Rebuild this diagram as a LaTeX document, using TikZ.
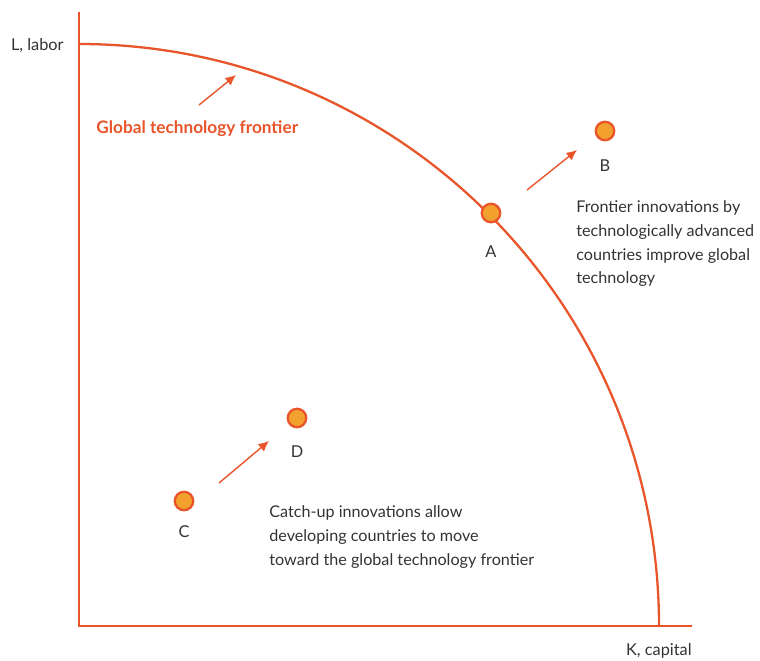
\documentclass[tikz,border=0pt]{standalone}
\usepackage{fontspec}
\setmainfont{Lato}
\usetikzlibrary{arrows.meta,positioning}
\definecolor{frontred}{HTML}{E8552B}
\definecolor{dotfill}{HTML}{F2A02E}
\definecolor{txtgray}{HTML}{333333}
\tikzset{
  point/.style={circle,draw=frontred,fill=dotfill,line width=1.3pt,minimum size=0.37cm,inner sep=0pt},
  ptlabel/.style={text=txtgray,font=\fontsize{9.3}{12}\selectfont},
  note/.style={text=txtgray,align=left,font=\fontsize{9.2}{13.6}\selectfont,inner sep=0pt},
}
\begin{document}
\begin{tikzpicture}[x=0.02cm,y=-0.02cm,>={Latex[length=6pt,width=5.5pt]}]
\useasboundingbox (0,0) rectangle (760,660);
% axes
\draw[frontred,line width=1.6pt] (79,12) -- (79,626) -- (692,626);
\node[ptlabel,anchor=base east,inner sep=0pt] (ylab) at (64,50) {L, labor};
\node[ptlabel,anchor=base east,inner sep=0pt] (xlab) at (692,655) {K, capital};
% frontier
\draw[frontred,line width=1.3pt] (79,44) arc[start angle=-90,end angle=0,x radius=580,y radius=582];
\node[anchor=base west,inner sep=0pt,text=frontred,font=\fontsize{9.8}{12}\selectfont\bfseries] (glob) at (96,133) {Global technology frontier};
\coordinate (g0) at (199,105);
\coordinate (g1) at (236,75);
\draw[->,frontred,line width=0.8pt] (g0) -- (g1);
% countries
\node[point] (A) at (491,213) {};
\node[point] (B) at (605,131) {};
\node[point] (C) at (184,501) {};
\node[point] (D) at (297,418) {};
\node[ptlabel,below=0.32cm of A] (Alab) {A};
\node[ptlabel,below=0.24cm of B] (Blab) {B};
\node[ptlabel,below=0.16cm of C] (Clab) {C};
\node[ptlabel,below=0.22cm of D] (Dlab) {D};
\coordinate (a0) at (527,190);
\coordinate (b0) at (577,150);
\coordinate (c0) at (219,483);
\coordinate (d0) at (269,441);
\draw[->,frontred,line width=0.8pt] (a0) -- (b0);
\draw[->,frontred,line width=0.8pt] (c0) -- (d0);
% notes
\node[note,anchor=north west] (topnote) at (576,200) {Frontier innovations by\\technologically advanced\\countries improve global\\technology};
\node[note,anchor=north west] (lownote) at (269,505) {Catch-up innovations allow\\developing countries to move\\toward the global technology frontier};
\end{tikzpicture}
\end{document}
